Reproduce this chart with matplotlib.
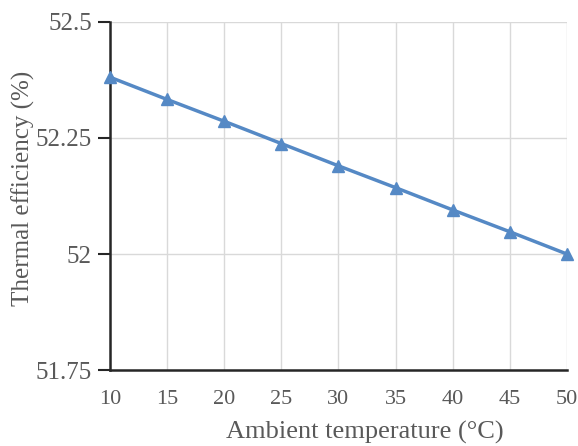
import matplotlib
matplotlib.use("Agg")
import matplotlib.pyplot as plt

temperature = [10, 15, 20, 25, 30, 35, 40, 45, 50]
efficiency = [52.381, 52.333, 52.286, 52.238, 52.190, 52.143, 52.095, 52.048, 52.000]
y_ticks = [51.75, 52.0, 52.25, 52.5]
y_tick_labels = ["51.75", "52", "52.25", "52.5"]

plt.rcParams['font.family'] = ['Liberation Serif', 'DejaVu Serif']
text_color = '#595959'

fig = plt.figure(figsize=(5.78, 4.46), dpi=100)
ax = fig.add_axes([0.19, 0.17, 0.791, 0.781])

ax.plot(temperature, efficiency, color='#5589C5', linewidth=2.5,
        marker='^', markersize=9, markeredgecolor='#5589C5', zorder=3, clip_on=False)

ax.set_xlim(10, 50)
ax.set_ylim(51.75, 52.5)
ax.set_xticks(temperature)
ax.set_xticklabels([str(t) for t in temperature])
ax.set_yticks(y_ticks)
ax.set_yticklabels(y_tick_labels)

ax.grid(True, color='#D9D9D9', linewidth=1.0)
ax.set_axisbelow(True)
for s in ['top', 'right']:
    ax.spines[s].set_visible(False)
for s in ['left', 'bottom']:
    ax.spines[s].set_color('#262626')
    ax.spines[s].set_linewidth(1.8)

ax.tick_params(axis='y', direction='out', length=9, width=1.5, color='#262626',
               labelsize=18, labelcolor=text_color, pad=4)
ax.tick_params(axis='x', length=0, labelsize=16, labelcolor=text_color, pad=14)

ax.set_xlabel('Ambient temperature (°C)', fontsize=19, color=text_color)
ax.xaxis.set_label_coords(0.558, -0.178)
ax.set_ylabel('Thermal efficiency (%)', fontsize=18, color=text_color)
ax.yaxis.set_label_coords(-0.189, 0.523)
ax.yaxis.label.set_verticalalignment('center')
ax.xaxis.label.set_verticalalignment('center')

fig.savefig('out.png', dpi=100)
